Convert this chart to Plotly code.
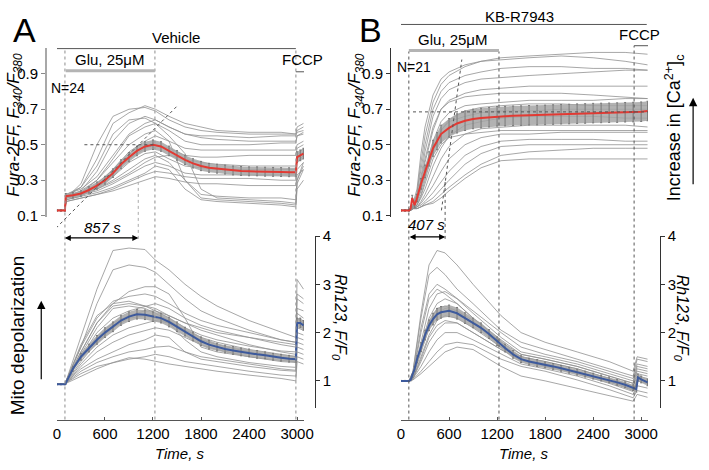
import plotly.graph_objects as go

W, H = 709, 470

# ---------------- data ----------------
# panel A (vehicle): single cells, Fura-2FF ratio
t_cell_A = [0, 100, 115, 300, 500, 700, 900, 1100, 1230, 1400, 1600, 1800, 2000, 2400, 2800, 2985, 3000, 3080]
fura_cells_A = [
    [0.13, 0.13, 0.20, 0.28, 0.50, 0.66, 0.70, 0.71, 0.69, 0.64, 0.60, 0.58, 0.57, 0.56, 0.56, 0.56, 0.60, 0.62],
    [0.13, 0.13, 0.21, 0.26, 0.42, 0.62, 0.68, 0.72, 0.70, 0.66, 0.62, 0.60, 0.58, 0.57, 0.57, 0.56, 0.58, 0.60],
    [0.13, 0.13, 0.20, 0.24, 0.35, 0.52, 0.62, 0.66, 0.64, 0.60, 0.56, 0.55, 0.55, 0.54, 0.55, 0.55, 0.57, 0.58],
    [0.13, 0.13, 0.22, 0.26, 0.38, 0.56, 0.64, 0.65, 0.62, 0.55, 0.45, 0.25, 0.20, 0.19, 0.18, 0.17, 0.30, 0.40],
    [0.13, 0.13, 0.20, 0.23, 0.30, 0.42, 0.55, 0.60, 0.62, 0.58, 0.52, 0.50, 0.50, 0.50, 0.51, 0.51, 0.55, 0.56],
    [0.13, 0.13, 0.21, 0.24, 0.30, 0.40, 0.50, 0.56, 0.58, 0.52, 0.30, 0.20, 0.19, 0.18, 0.17, 0.16, 0.28, 0.36],
    [0.13, 0.13, 0.20, 0.22, 0.28, 0.36, 0.46, 0.52, 0.55, 0.52, 0.48, 0.47, 0.47, 0.47, 0.47, 0.47, 0.50, 0.52],
    [0.13, 0.13, 0.21, 0.23, 0.27, 0.34, 0.42, 0.48, 0.50, 0.48, 0.44, 0.43, 0.43, 0.44, 0.44, 0.44, 0.48, 0.50],
    [0.13, 0.13, 0.19, 0.21, 0.26, 0.32, 0.40, 0.45, 0.46, 0.42, 0.38, 0.37, 0.36, 0.36, 0.36, 0.36, 0.42, 0.46],
    [0.13, 0.13, 0.20, 0.22, 0.25, 0.30, 0.36, 0.42, 0.44, 0.40, 0.30, 0.22, 0.21, 0.20, 0.20, 0.19, 0.30, 0.38],
    [0.13, 0.13, 0.20, 0.22, 0.24, 0.28, 0.33, 0.38, 0.40, 0.38, 0.34, 0.33, 0.33, 0.33, 0.33, 0.33, 0.40, 0.44],
    [0.13, 0.13, 0.18, 0.20, 0.22, 0.25, 0.29, 0.33, 0.35, 0.34, 0.32, 0.31, 0.31, 0.31, 0.30, 0.30, 0.36, 0.40],
    [0.13, 0.13, 0.19, 0.21, 0.23, 0.26, 0.30, 0.34, 0.38, 0.36, 0.25, 0.19, 0.18, 0.17, 0.16, 0.15, 0.25, 0.30],
    [0.13, 0.13, 0.18, 0.20, 0.22, 0.24, 0.27, 0.30, 0.32, 0.31, 0.29, 0.28, 0.28, 0.27, 0.27, 0.27, 0.33, 0.36],
    [0.13, 0.13, 0.20, 0.22, 0.25, 0.29, 0.34, 0.40, 0.43, 0.44, 0.42, 0.40, 0.39, 0.38, 0.38, 0.38, 0.44, 0.48],
    [0.13, 0.13, 0.22, 0.25, 0.32, 0.44, 0.56, 0.62, 0.64, 0.60, 0.56, 0.54, 0.53, 0.52, 0.52, 0.52, 0.55, 0.57],
]
# panel A: single cells, Rh123 F/F0
rh_cells_A = [
    [0.93, 0.93, 1.00, 1.90, 2.90, 3.70, 3.75, 3.72, 3.50, 3.30, 3.00, 2.75, 2.55, 2.25, 2.00, 1.90, 3.10, 2.90],
    [0.93, 0.93, 1.00, 1.70, 2.60, 3.30, 3.40, 3.35, 3.25, 3.00, 2.70, 2.45, 2.30, 2.05, 1.85, 1.80, 2.80, 2.70],
    [0.93, 0.93, 1.00, 1.60, 2.20, 2.60, 2.85, 2.95, 2.95, 2.80, 2.30, 1.70, 1.60, 1.50, 1.42, 1.40, 2.40, 2.30],
    [0.93, 0.93, 1.00, 1.70, 2.30, 2.65, 2.75, 2.80, 2.75, 2.60, 2.40, 2.25, 2.15, 2.00, 1.85, 1.80, 2.70, 2.60],
    [0.93, 0.93, 1.00, 1.60, 2.20, 2.55, 2.60, 2.55, 2.50, 2.35, 2.20, 2.10, 2.00, 1.90, 1.80, 1.75, 2.50, 2.45],
    [0.93, 0.93, 0.98, 1.50, 2.00, 2.30, 2.45, 2.55, 2.60, 2.50, 2.30, 2.15, 2.05, 1.90, 1.75, 1.70, 2.30, 2.20],
    [0.93, 0.93, 1.00, 1.50, 1.90, 2.20, 2.35, 2.45, 2.45, 2.35, 2.20, 2.05, 1.95, 1.75, 1.60, 1.55, 2.20, 2.10],
    [0.93, 0.93, 0.98, 1.40, 1.80, 2.10, 2.30, 2.35, 2.30, 2.20, 2.00, 1.85, 1.75, 1.60, 1.50, 1.45, 2.00, 1.95],
    [0.93, 0.93, 0.97, 1.35, 1.70, 1.95, 2.10, 2.20, 2.25, 2.20, 1.85, 1.60, 1.50, 1.38, 1.30, 1.28, 1.90, 1.85],
    [0.93, 0.93, 0.96, 1.30, 1.60, 1.80, 1.95, 2.05, 2.10, 2.05, 1.90, 1.75, 1.65, 1.50, 1.40, 1.38, 1.80, 1.75],
    [0.93, 0.93, 0.97, 1.25, 1.45, 1.60, 1.75, 1.85, 1.95, 1.90, 1.60, 1.45, 1.40, 1.30, 1.22, 1.20, 1.70, 1.65],
    [0.93, 0.93, 0.96, 1.20, 1.38, 1.50, 1.60, 1.65, 1.70, 1.72, 1.60, 1.50, 1.45, 1.35, 1.25, 1.22, 1.60, 1.55],
    [0.93, 0.93, 0.96, 1.15, 1.30, 1.38, 1.45, 1.50, 1.55, 1.50, 1.40, 1.35, 1.30, 1.20, 1.12, 1.10, 1.50, 1.45],
    [0.93, 0.93, 0.95, 1.10, 1.25, 1.38, 1.48, 1.45, 1.40, 1.35, 1.30, 1.25, 1.20, 1.12, 1.05, 1.00, 1.40, 1.35],
    [0.93, 0.93, 1.00, 1.75, 2.35, 2.60, 2.65, 2.55, 2.45, 2.30, 2.10, 1.95, 1.85, 1.72, 1.62, 1.60, 2.30, 2.20],
    [0.93, 0.93, 0.98, 1.55, 2.10, 2.50, 2.55, 2.50, 2.40, 2.25, 2.05, 1.90, 1.80, 1.65, 1.55, 1.50, 2.10, 2.05],
]
# panel A: mean +/- SEM
t_mean_A = [0, 50, 100, 110, 200, 300, 400, 500, 600, 700, 800, 900, 1000, 1100, 1200, 1300, 1400, 1500,
            1600, 1700, 1800, 1900, 2000, 2100, 2200, 2300, 2400, 2500, 2600, 2700, 2800, 2900, 2985, 3000, 3040, 3080]
fura_mean_A = [0.13, 0.13, 0.13, 0.21, 0.215, 0.225, 0.245, 0.27, 0.30, 0.34, 0.39, 0.43, 0.465, 0.49, 0.50, 0.49,
               0.465, 0.44, 0.415, 0.395, 0.38, 0.37, 0.365, 0.36, 0.355, 0.352, 0.35, 0.35, 0.348, 0.347, 0.346,
               0.345, 0.345, 0.43, 0.44, 0.45]
fura_sem_A = [0.005, 0.005, 0.005, 0.015, 0.015, 0.015, 0.018, 0.02, 0.022, 0.024, 0.025, 0.026, 0.027, 0.027,
              0.027, 0.027, 0.027, 0.027, 0.026, 0.026, 0.026, 0.025, 0.025, 0.025, 0.025, 0.025, 0.025, 0.025,
              0.025, 0.025, 0.025, 0.025, 0.025, 0.03, 0.03, 0.03]
rh_mean_A = [0.93, 0.93, 0.93, 0.95, 1.25, 1.5, 1.68, 1.85, 2.0, 2.12, 2.25, 2.33, 2.38, 2.37, 2.33, 2.3, 2.22,
             2.12, 2.02, 1.92, 1.82, 1.75, 1.7, 1.66, 1.63, 1.6, 1.58, 1.55, 1.53, 1.5, 1.48, 1.46, 1.45, 2.2,
             2.2, 2.15]
rh_sem_A = [0.01, 0.01, 0.01, 0.02, 0.05, 0.07, 0.08, 0.09, 0.1, 0.1, 0.1, 0.1, 0.1, 0.1, 0.1, 0.1, 0.1, 0.1,
            0.09, 0.09, 0.09, 0.09, 0.08, 0.08, 0.08, 0.08, 0.08, 0.08, 0.07, 0.07, 0.07, 0.07, 0.07, 0.1,
            0.1, 0.1]

# panel B (KB-R7943): single cells, Fura-2FF ratio
t_cell_B_fura = [0, 100, 150, 200, 250, 300, 400, 500, 600, 800, 1000, 1250, 1600, 2000, 2400, 2800, 3080]
fura_cells_B = [
    [0.13, 0.13, 0.17, 0.25, 0.45, 0.60, 0.78, 0.87, 0.91, 0.95, 0.97, 0.99, 1.00, 1.01, 1.02, 1.02, 1.01],
    [0.13, 0.13, 0.16, 0.23, 0.40, 0.55, 0.74, 0.84, 0.89, 0.94, 0.97, 0.98, 0.99, 1.00, 0.99, 0.97, 0.95],
    [0.13, 0.13, 0.16, 0.22, 0.36, 0.50, 0.70, 0.80, 0.85, 0.89, 0.91, 0.93, 0.94, 0.94, 0.93, 0.93, 0.92],
    [0.13, 0.13, 0.15, 0.20, 0.32, 0.46, 0.66, 0.76, 0.81, 0.85, 0.87, 0.88, 0.89, 0.90, 0.91, 0.92, 0.92],
    [0.13, 0.13, 0.15, 0.19, 0.28, 0.40, 0.58, 0.70, 0.75, 0.79, 0.81, 0.82, 0.83, 0.83, 0.83, 0.83, 0.83],
    [0.13, 0.13, 0.15, 0.18, 0.25, 0.35, 0.52, 0.63, 0.68, 0.72, 0.73, 0.74, 0.75, 0.75, 0.75, 0.76, 0.76],
    [0.13, 0.13, 0.14, 0.17, 0.22, 0.30, 0.46, 0.58, 0.64, 0.69, 0.71, 0.72, 0.73, 0.73, 0.72, 0.72, 0.72],
    [0.13, 0.13, 0.15, 0.18, 0.24, 0.32, 0.48, 0.58, 0.63, 0.66, 0.68, 0.69, 0.69, 0.70, 0.70, 0.70, 0.70],
    [0.13, 0.13, 0.14, 0.16, 0.20, 0.25, 0.38, 0.48, 0.55, 0.61, 0.63, 0.65, 0.66, 0.66, 0.66, 0.65, 0.65],
    [0.13, 0.13, 0.14, 0.15, 0.18, 0.22, 0.32, 0.42, 0.49, 0.56, 0.59, 0.60, 0.61, 0.61, 0.61, 0.61, 0.60],
    [0.13, 0.13, 0.14, 0.15, 0.17, 0.20, 0.27, 0.35, 0.42, 0.50, 0.54, 0.56, 0.56, 0.57, 0.57, 0.57, 0.57],
    [0.13, 0.13, 0.14, 0.15, 0.16, 0.18, 0.23, 0.29, 0.35, 0.44, 0.49, 0.52, 0.53, 0.53, 0.53, 0.52, 0.52],
    [0.13, 0.13, 0.14, 0.14, 0.15, 0.17, 0.20, 0.25, 0.30, 0.39, 0.45, 0.49, 0.50, 0.50, 0.50, 0.50, 0.50],
    [0.13, 0.13, 0.14, 0.14, 0.15, 0.16, 0.18, 0.22, 0.26, 0.33, 0.39, 0.44, 0.46, 0.47, 0.48, 0.48, 0.48],
    [0.13, 0.13, 0.14, 0.14, 0.15, 0.16, 0.17, 0.20, 0.24, 0.31, 0.37, 0.41, 0.42, 0.42, 0.42, 0.42, 0.42],
    [0.13, 0.13, 0.15, 0.19, 0.30, 0.42, 0.60, 0.70, 0.74, 0.77, 0.78, 0.79, 0.79, 0.79, 0.78, 0.77, 0.76],
    [0.13, 0.13, 0.14, 0.16, 0.21, 0.28, 0.42, 0.50, 0.54, 0.56, 0.57, 0.58, 0.58, 0.58, 0.58, 0.58, 0.58],
]
# panel B: single cells, Rh123 F/F0
t_cell_B_rh = [0, 100, 150, 250, 350, 450, 550, 700, 900, 1250, 1500, 1800, 2200, 2600, 2900, 2950, 3080]
rh_cells_B = [
    [1.0, 1.0, 1.20, 2.40, 3.40, 3.70, 3.65, 3.40, 3.00, 2.35, 2.00, 1.80, 1.60, 1.40, 1.20, 1.50, 1.45],
    [1.0, 1.0, 1.20, 2.30, 3.20, 3.35, 3.20, 2.90, 2.60, 2.05, 1.80, 1.65, 1.45, 1.25, 1.10, 1.45, 1.40],
    [1.0, 1.0, 1.15, 2.10, 2.80, 3.00, 2.90, 2.70, 2.45, 2.00, 1.70, 1.55, 1.40, 1.20, 1.05, 1.35, 1.30],
    [1.0, 1.0, 1.10, 1.80, 2.50, 2.80, 2.85, 2.70, 2.40, 1.90, 1.60, 1.50, 1.35, 1.15, 1.00, 1.30, 1.25],
    [1.0, 1.0, 1.10, 1.70, 2.30, 2.60, 2.70, 2.60, 2.30, 1.85, 1.55, 1.45, 1.30, 1.10, 0.95, 1.20, 1.15],
    [1.0, 1.0, 1.08, 1.60, 2.10, 2.40, 2.50, 2.45, 2.20, 1.75, 1.50, 1.40, 1.25, 1.05, 0.88, 1.10, 1.05],
    [1.0, 1.0, 1.05, 1.50, 1.95, 2.25, 2.35, 2.30, 2.10, 1.70, 1.45, 1.35, 1.20, 1.00, 0.82, 1.05, 1.00],
    [1.0, 1.0, 1.05, 1.40, 1.80, 2.05, 2.20, 2.20, 2.00, 1.65, 1.42, 1.30, 1.15, 0.95, 0.78, 1.00, 0.95],
    [1.0, 1.0, 1.05, 1.30, 1.60, 1.85, 2.00, 2.00, 1.85, 1.55, 1.35, 1.25, 1.10, 0.90, 0.72, 0.90, 0.85],
    [1.0, 1.0, 1.03, 1.20, 1.40, 1.60, 1.75, 1.80, 1.75, 1.45, 1.30, 1.20, 1.02, 0.82, 0.65, 0.80, 0.75],
    [1.0, 1.0, 1.02, 1.15, 1.30, 1.45, 1.60, 1.70, 1.65, 1.30, 1.10, 1.00, 0.85, 0.70, 0.58, 0.72, 0.66],
    [1.0, 1.0, 1.10, 2.00, 2.70, 2.90, 2.80, 2.60, 2.30, 1.80, 1.55, 1.45, 1.30, 1.10, 0.95, 1.25, 1.20],
    [1.0, 1.0, 1.08, 1.65, 2.20, 2.50, 2.55, 2.45, 2.25, 1.70, 1.50, 1.40, 1.25, 1.05, 0.90, 1.15, 1.10],
    [1.0, 1.0, 1.05, 1.45, 1.90, 2.15, 2.25, 2.20, 2.00, 1.65, 1.45, 1.32, 1.18, 0.98, 0.80, 1.00, 0.95],
]
# panel B: mean +/- SEM
t_mean_B_fura = [0, 50, 100, 120, 140, 170, 200, 250, 300, 350, 400, 450, 500, 600, 700, 800, 900, 1000, 1100,
                 1200, 1300, 1400, 1500, 1600, 1700, 1800, 1900, 2000, 2100, 2200, 2300, 2400, 2500, 2600, 2700,
                 2800, 2900, 3000, 3080]
fura_mean_B = [0.13, 0.13, 0.13, 0.14, 0.20, 0.16, 0.20, 0.28, 0.35, 0.42, 0.48, 0.52, 0.56, 0.595, 0.62, 0.635,
               0.645, 0.65, 0.655, 0.66, 0.661, 0.663, 0.664, 0.666, 0.667, 0.668, 0.67, 0.672, 0.673, 0.675,
               0.676, 0.678, 0.679, 0.68, 0.681, 0.683, 0.684, 0.686, 0.69]
fura_sem_B = [0.005, 0.005, 0.005, 0.01, 0.015, 0.015, 0.02, 0.03, 0.035, 0.04, 0.045, 0.048, 0.05, 0.052, 0.054,
              0.055, 0.055, 0.055, 0.055, 0.055, 0.055, 0.055, 0.055, 0.055, 0.055, 0.055, 0.055, 0.055, 0.055,
              0.055, 0.055, 0.055, 0.055, 0.055, 0.055, 0.055, 0.055, 0.055, 0.055]
t_mean_B_rh = [0, 50, 100, 120, 140, 170, 200, 250, 300, 350, 400, 450, 500, 600, 700, 800, 900, 1000, 1100,
               1200, 1300, 1400, 1500, 1600, 1700, 1800, 1900, 2000, 2100, 2200, 2300, 2400, 2500, 2600, 2700,
               2800, 2900, 2940, 2960, 3000, 3080]
rh_mean_B = [1.0, 1.0, 1.0, 1.02, 1.1, 1.25, 1.45, 1.7, 1.95, 2.15, 2.28, 2.38, 2.42, 2.45, 2.4, 2.3, 2.2, 2.1,
             1.97, 1.82, 1.68, 1.55, 1.45, 1.4, 1.37, 1.33, 1.3, 1.26, 1.22, 1.18, 1.14, 1.1, 1.06, 1.02, 0.97,
             0.92, 0.86, 0.83, 1.07, 1.03, 0.97]
rh_sem_B = [0.01, 0.01, 0.01, 0.02, 0.03, 0.05, 0.07, 0.09, 0.1, 0.11, 0.12, 0.12, 0.12, 0.12, 0.12, 0.11, 0.1,
            0.1, 0.09, 0.09, 0.08, 0.08, 0.07, 0.07, 0.07, 0.06, 0.06, 0.06, 0.06, 0.06, 0.06, 0.06, 0.06, 0.06,
            0.06, 0.06, 0.06, 0.06, 0.07, 0.07, 0.07]

x_ticks = [0, 600, 1200, 1800, 2400, 3000]
fura_ticks = [0.1, 0.3, 0.5, 0.7, 0.9]
rh_ticks = [1, 2, 3, 4]

# ---------------- layout helpers ----------------
FONT = "Liberation Sans, Arial, sans-serif"
GREY = "#909090"
RED = "#e23a33"
BLUE = "#3d5a9c"

XA = [54 / W, 306 / W]
XB = [405 / W, 657 / W]
TOP = [1 - 215 / H, 1 - 40 / H]
BOT = [1 - 413 / H, 1 - 235 / H]
XR = [0, 3086]
FR = [0.0946, 1.047]
RR = [0.44, 4.0]


def px(x):
    return x / W


def py(y):
    return 1 - y / H


def fy(v):
    # fura value -> paper y
    return TOP[0] + (v - FR[0]) / (FR[1] - FR[0]) * (TOP[1] - TOP[0])


fig = go.Figure()


def add_panel(t_cells, cells, t_mean, mean, sem, xa, ya, col):
    for row in cells:
        fig.add_trace(go.Scatter(x=t_cells, y=row, xaxis=xa, yaxis=ya, mode="lines",
                                 line=dict(color=GREY, width=0.8), hoverinfo="skip"))
    lo = [m - s for m, s in zip(mean, sem)]
    hi = [m + s for m, s in zip(mean, sem)]
    fig.add_trace(go.Scatter(x=t_mean, y=lo, xaxis=xa, yaxis=ya, mode="lines",
                             line=dict(width=0, color="#bbbbbb"), hoverinfo="skip"))
    fig.add_trace(go.Scatter(x=t_mean, y=hi, xaxis=xa, yaxis=ya, mode="lines", fill="tonexty",
                             fillcolor="rgba(165,165,165,0.85)", line=dict(width=0, color="#bbbbbb"),
                             hoverinfo="skip"))
    fig.add_trace(go.Scatter(x=t_mean, y=mean, xaxis=xa, yaxis=ya, mode="lines",
                             line=dict(color=col, width=2),
                             error_y=dict(type="data", array=sem, color="#7a7a7a", thickness=1, width=1),
                             hoverinfo="skip"))


add_panel(t_cell_A, fura_cells_A, t_mean_A, fura_mean_A, fura_sem_A, "x", "y", RED)
add_panel(t_cell_A, rh_cells_A, t_mean_A, rh_mean_A, rh_sem_A, "x2", "y2", BLUE)
add_panel(t_cell_B_fura, fura_cells_B, t_mean_B_fura, fura_mean_B, fura_sem_B, "x3", "y3", RED)
add_panel(t_cell_B_rh, rh_cells_B, t_mean_B_rh, rh_mean_B, rh_sem_B, "x4", "y4", BLUE)

tickfont = dict(family=FONT, size=15, color="black")
hidden_x = dict(range=XR, visible=False, showgrid=False, zeroline=False)
bottom_x = dict(range=XR, anchor="free", position=py(425), showline=True, linecolor="#555", linewidth=1,
                ticks="inside", ticklen=3, tickcolor="#555", tickvals=x_ticks, tickfont=tickfont,
                showgrid=False, zeroline=False)
left_y = dict(domain=TOP, range=FR, anchor="free", side="left", showline=True, ticks="outside", ticklen=4,
              tickvals=fura_ticks, ticktext=[f"{v:.1f}" for v in fura_ticks], tickfont=tickfont,
              showgrid=False, zeroline=False)
right_y = dict(domain=BOT, range=RR, anchor="free", side="right", showline=True, linecolor="#333", linewidth=1,
               ticks="outside", ticklen=4, tickcolor="#333", tickvals=rh_ticks, tickfont=tickfont,
               showgrid=False, zeroline=False)

fig.update_layout(
    width=W, height=H, margin=dict(l=0, r=0, t=0, b=0),
    paper_bgcolor="white", plot_bgcolor="white", showlegend=False,
    font=dict(family=FONT, color="black"),
    xaxis=dict(domain=XA, anchor="y", **hidden_x),
    xaxis2=dict(domain=XA, **bottom_x),
    xaxis3=dict(domain=XB, anchor="y3", **hidden_x),
    xaxis4=dict(domain=XB, **bottom_x),
    yaxis=dict(position=px(43), linecolor="#a8a8a8", linewidth=2, tickcolor="#888", **left_y),
    yaxis2=dict(position=px(317), **right_y),
    yaxis3=dict(position=px(394), linecolor="#333", linewidth=1, tickcolor="#333", **left_y),
    yaxis4=dict(position=px(669), **right_y),
)

# ---------------- shapes ----------------
shapes = []


def vline(t, xref, y_top, color, width=1.2):
    shapes.append(dict(type="line", xref=xref, yref="paper", x0=t, x1=t, y0=py(425), y1=py(y_top),
                       line=dict(color=color, width=width, dash="dot")))


def hbar(t0, t1, xref, y, color, width=1):
    shapes.append(dict(type="line", xref=xref, yref="paper", x0=t0, x1=t1, y0=py(y), y1=py(y),
                       line=dict(color=color, width=width)))


# panel A markers
for t in [100, 1224, 2985]:
    vline(t, "x", 41, "#a0a0a0")
hbar(-37, 2985, "x", 41, "#555")
hbar(110, 1224, "x", 64, "#b4b4b4", 3)
hbar(2985, 3110, "x", 65, "#555")
# panel B markers
vline(98, "x3", 44, "#555", 1)
vline(1224, "x3", 44, "#555", 1)
vline(2912, "x3", 38, "#555", 1)
hbar(0, 3070, "x3", 16, "#555")
hbar(98, 1224, "x3", 43, "#b4b4b4", 3)
hbar(2912, 3090, "x3", 38, "#555")

# guide lines (dotted)
guide = dict(color="#555", width=1, dash="dot")
shapes += [
    dict(type="line", xref="x", yref="paper", x0=343, x1=1212, y0=fy(0.5), y1=fy(0.5), line=guide),
    dict(type="line", xref="x", yref="paper", x0=-12, x1=1506, y0=fy(0.03), y1=fy(0.72), line=guide),
    dict(type="line", xref="x", yref="paper", x0=1016, x1=1016, y0=py(238), y1=fy(0.33),
         line=dict(color="#aaa", width=1, dash="dot")),
    dict(type="line", xref="x3", yref="paper", x0=150, x1=3086, y0=fy(0.685), y1=fy(0.685), line=guide),
    dict(type="line", xref="x3", yref="paper", x0=505, x1=760, y0=fy(0.13), y1=fy(0.98), line=guide),
    dict(type="line", xref="x3", yref="paper", x0=551, x1=551, y0=py(238), y1=fy(0.29), line=guide),
]
fig.update_layout(shapes=shapes)

# ---------------- text ----------------
ann = []


def note(x, y, text, size=15, angle=0):
    ann.append(dict(x=px(x), y=py(y), xref="paper", yref="paper", text=text, showarrow=False,
                    font=dict(family=FONT, size=size, color="black"), textangle=angle,
                    xanchor="center", yanchor="middle"))


def arrow(x, y, ax, ay, both=False, size=1.0):
    ann.append(dict(x=px(x), y=py(y), xref="paper", yref="paper", ax=ax, ay=ay, axref="pixel", ayref="pixel",
                    text="", showarrow=True, arrowhead=2, arrowsize=size, arrowwidth=1.2, arrowcolor="black",
                    arrowside="end+start" if both else "end", standoff=0, startstandoff=0))


note(21, 22, "A", 34)
note(374, 22, "B", 34)
note(175, 30, "Vehicle")
note(108, 52, "Glu, 25\u03bcM")
note(305, 52, "FCCP")
note(65, 82, "N=24", 14)
note(526, 8, "KB-R7943")
note(458, 32, "Glu, 25\u03bcM")
note(648, 26, "FCCP")
note(418, 60, "N=21", 14)
note(100, 226, "<i>857 s</i>", 15)
note(431, 223, "<i>407 s</i>", 15)
arrow(137, 237, -75, 0, both=True)
arrow(450, 236, -37, 0, both=True)

note(11, 120, "<i>Fura-2FF, F<sub>340</sub>/F<sub>380</sub></i>", 17, -90)
note(359, 120, "<i>Fura-2FF, F<sub>340</sub>/F<sub>380</sub></i>", 17, -90)
note(343, 319, "<i>Rh123, F/F<sub>0</sub></i>", 16, 90)
note(692, 320, "<i>Rh123, F/F<sub>0</sub></i>", 16, 90)
note(14, 338, "Mito depolarization", 19, -90)
note(684, 123, "Increase in [Ca<sup>2+</sup>]<sub>c</sub>", 18, -90)
arrow(38, 302, 0, 80, size=1.4)
arrow(703, 92, 0, 88, size=1.4)
note(180, 460, "<i>Time, s</i>", 15)
note(530, 460, "<i>Time, s</i>", 15)

fig.update_layout(annotations=ann)

fig.write_html("out.html", config={"displayModeBar": False},
               post_script="document.body.style.margin='0';")
